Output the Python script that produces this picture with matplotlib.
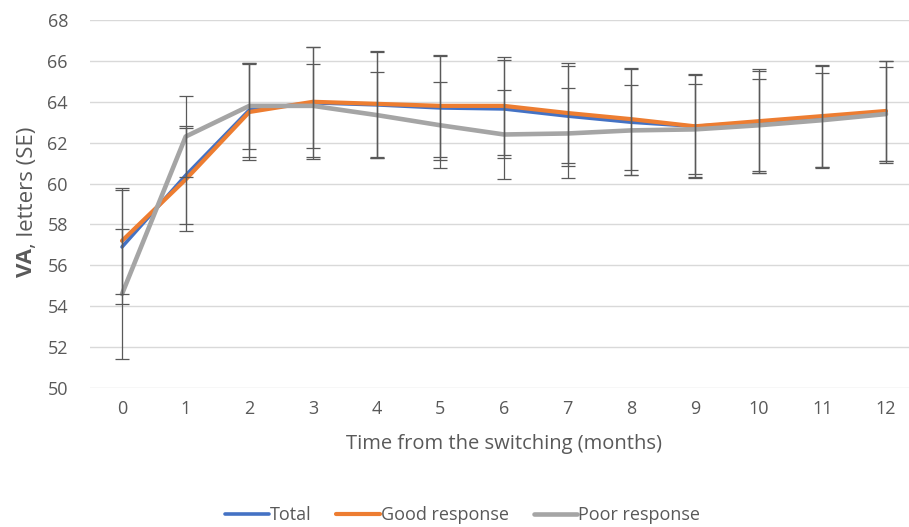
import matplotlib
matplotlib.use("Agg")
import matplotlib.pyplot as plt
import numpy as np

months = list(range(13))
total = [56.9, 60.4, 63.6, 63.95, 63.85, 63.7, 63.65, 63.3, 63.0, 62.8, 63.0, 63.25, 63.5]
total_se = [2.8, 2.4, 2.3, 2.75, 2.6, 2.55, 2.4, 2.45, 2.6, 2.55, 2.5, 2.5, 2.5]
good = [57.2, 60.2, 63.5, 64.0, 63.9, 63.8, 63.8, 63.45, 63.15, 62.8, 63.05, 63.3, 63.55]
good_se = [2.6, 2.5, 2.35, 2.7, 2.6, 2.5, 2.4, 2.45, 2.5, 2.5, 2.55, 2.5, 2.45]
poor = [54.6, 62.3, 63.8, 63.8, 63.35, 62.85, 62.4, 62.45, 62.6, 62.65, 62.85, 63.1, 63.4]
poor_se = [3.2, 2.0, 2.1, 2.05, 2.1, 2.1, 2.2, 2.2, 2.2, 2.2, 2.25, 2.3, 2.3]
yticks = [50, 52, 54, 56, 58, 60, 62, 64, 66, 68]

plt.rcParams['font.family'] = ['Open Sans', 'DejaVu Sans']

W, H = 909, 527
fig = plt.figure(figsize=(W/100, H/100), dpi=100)
left, right, top, bottom = 90.2, 917.8, 20, 388
ax = fig.add_axes([left/W, 1-bottom/H, (right-left)/W, (bottom-top)/H])
txtcol = '#595959'

series = [
    ("Total", total, total_se, "#4472C4", 2.6),
    ("Good response", good, good_se, "#ED7D31", 3.0),
    ("Poor response", poor, poor_se, "#A5A5A5", 3.3),
]
for i, (name, vals, se, col, lw) in enumerate(series):
    ax.plot(months, vals, color=col, lw=lw, label=name, zorder=3+i,
            solid_capstyle='round', solid_joinstyle='round')
for i, (name, vals, se, col, lw) in enumerate(series):
    ax.errorbar(months, vals, yerr=se, fmt='none', ecolor='#595959',
                elinewidth=0.9, capsize=5, capthick=0.9, zorder=7)

ax.set_xlim(-0.5, 12.5)
ax.set_ylim(50, 68)
ax.set_yticks(yticks)
ax.set_xticks(months)
ax.grid(axis='y', color='#D9D9D9', lw=1)
ax.set_axisbelow(True)
for s in ax.spines.values():
    s.set_visible(False)
ax.tick_params(length=0, labelsize=13, colors=txtcol)
ax.tick_params(axis='x', pad=9)
ax.tick_params(axis='y', pad=16)
ax.set_xlabel("Time from the switching (months)", fontsize=14.5, color=txtcol, labelpad=11)

# y label with bold "VA"
fig.canvas.draw()
r = fig.canvas.get_renderer()
lab_fs = 16
cx, cy = 27, 202
t1 = fig.text(0, 0, "VA", fontsize=lab_fs, fontweight='bold', rotation=90, color=txtcol,
              ha='center', va='bottom', family=['Open Sans', 'DejaVu Sans'])
t2 = fig.text(0, 0, ", letters (SE)", fontsize=lab_fs, rotation=90, color=txtcol,
              ha='center', va='bottom')
h1 = t1.get_window_extent(r).height
h2 = t2.get_window_extent(r).height
start = cy + (h1 + h2) / 2
t1.set_position((cx / W, 1 - start / H))
t2.set_position((cx / W, 1 - (start - h1) / H))

leg = fig.legend(loc='center', bbox_to_anchor=(0.509, 1-515/H), ncol=3, frameon=False,
                 fontsize=13, handlelength=2.4, handletextpad=0.05, columnspacing=1.4)
for t in leg.get_texts():
    t.set_color(txtcol)

fig.savefig("out.png", dpi=100)
